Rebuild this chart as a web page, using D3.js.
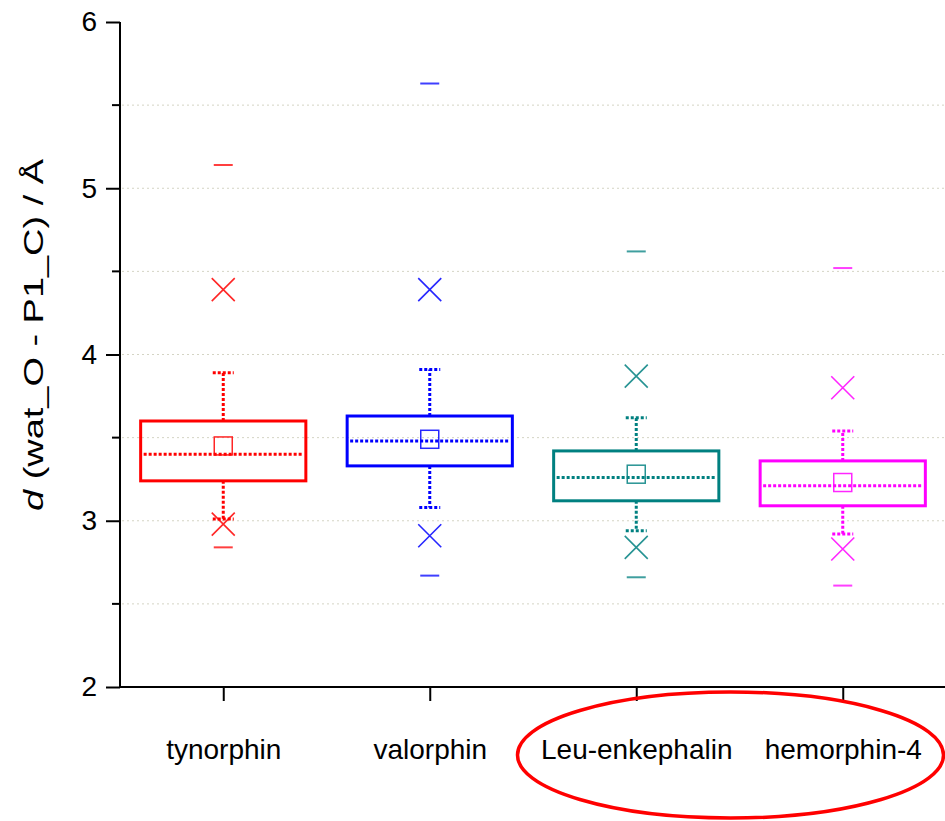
<!DOCTYPE html>
<html>
<head>
<meta charset="utf-8">
<script src="https://cdn.jsdelivr.net/npm/d3@7"></script>
<style>
  html, body { margin: 0; padding: 0; background: #fff; }
  svg { display: block; }
  text { font-family: "Liberation Sans", Arial, sans-serif; fill: #000; }
</style>
</head>
<body>
<svg id="chart" width="945" height="821"></svg>
<script>
// ---- data ----
const categories = ["tynorphin", "valorphin", "Leu-enkephalin", "hemorphin-4"];
const colors = ["#ff0000", "#0000ff", "#008080", "#ff00ff"];
const minVals = [2.84, 2.67, 2.66, 2.61];
const p1Vals = [2.98, 2.91, 2.84, 2.83];
const whiskerLow = [3.01, 3.08, 2.94, 2.92];
const q1Vals = [3.24, 3.33, 3.12, 3.09];
const medianVals = [3.40, 3.48, 3.26, 3.21];
const meanVals = [3.45, 3.49, 3.28, 3.23];
const q3Vals = [3.60, 3.63, 3.42, 3.36];
const whiskerHigh = [3.89, 3.91, 3.62, 3.54];
const p99Vals = [4.39, 4.39, 3.87, 3.80];
const maxVals = [5.14, 5.63, 4.62, 4.52];
const yMajorTicks = [2, 3, 4, 5, 6];
const yMinorTicks = [2.5, 3.5, 4.5, 5.5];
const gridVals = [2.5, 3, 3.5, 4, 4.5, 5, 5.5];
const yTitle = "(wat_O - P1_C) / Å";

// ---- layout ----
const svg = d3.select("#chart");
const plotLeft = 120, plotRight = 946, plotTop = 22, plotBottom = 687;

const x = d3.scalePoint().domain(categories).range([plotLeft, plotRight]).padding(0.5);
const y = d3.scaleLinear().domain([2, 6]).range([plotBottom, plotTop]);
const boxW = x.step() * 0.8;
const capW = 21, dashW = 19, xSize = 11.5, sq = 18;

// gridlines
svg.append("g").selectAll("line").data(gridVals).join("line")
  .attr("x1", plotLeft + 2).attr("x2", 945)
  .attr("y1", d => y(d)).attr("y2", d => y(d))
  .attr("stroke", "#d4d4c4").attr("stroke-width", 1)
  .attr("stroke-dasharray", "2,3");

const data = categories.map((c, i) => ({
  c, color: colors[i], min: minVals[i], p1: p1Vals[i], wl: whiskerLow[i], q1: q1Vals[i],
  med: medianVals[i], mean: meanVals[i], q3: q3Vals[i], wh: whiskerHigh[i], p99: p99Vals[i], max: maxVals[i]
}));

const g = svg.append("g").selectAll("g").data(data).join("g");

// whiskers (dotted)
g.append("line")
  .attr("x1", d => x(d.c)).attr("x2", d => x(d.c))
  .attr("y1", d => y(d.q3)).attr("y2", d => y(d.wh))
  .attr("stroke", d => d.color).attr("stroke-width", 3).attr("stroke-dasharray", "3,2");
g.append("line")
  .attr("x1", d => x(d.c)).attr("x2", d => x(d.c))
  .attr("y1", d => y(d.q1)).attr("y2", d => y(d.wl))
  .attr("stroke", d => d.color).attr("stroke-width", 3).attr("stroke-dasharray", "3,2");
["wh", "wl"].forEach(k => {
  g.append("line")
    .attr("x1", d => x(d.c) - capW / 2).attr("x2", d => x(d.c) + capW / 2)
    .attr("y1", d => y(d[k])).attr("y2", d => y(d[k]))
    .attr("stroke", d => d.color).attr("stroke-width", 3).attr("stroke-dasharray", "3,2");
});

// box
g.append("rect")
  .attr("x", d => x(d.c) - boxW / 2).attr("width", boxW)
  .attr("y", d => y(d.q3)).attr("height", d => y(d.q1) - y(d.q3))
  .attr("fill", "none").attr("stroke", d => d.color).attr("stroke-width", 3);

// median (dotted)
g.append("line")
  .attr("x1", d => x(d.c) - boxW / 2 + 3).attr("x2", d => x(d.c) + boxW / 2 - 3)
  .attr("y1", d => y(d.med)).attr("y2", d => y(d.med))
  .attr("stroke", d => d.color).attr("stroke-width", 3).attr("stroke-dasharray", "3,2");

// mean square
g.append("rect")
  .attr("x", d => x(d.c) - sq / 2).attr("width", sq)
  .attr("y", d => y(d.mean) - sq / 2).attr("height", sq)
  .attr("fill", "none").attr("stroke", d => d.color).attr("stroke-width", 1.5).attr("opacity", 0.85);

// 1% / 99% crosses
["p1", "p99"].forEach(k => {
  g.append("path")
    .attr("d", d => {
      const cx = x(d.c), cy = y(d[k]);
      return `M${cx - xSize},${cy - xSize}L${cx + xSize},${cy + xSize}M${cx - xSize},${cy + xSize}L${cx + xSize},${cy - xSize}`;
    })
    .attr("fill", "none").attr("stroke", d => d.color).attr("stroke-width", 1.6).attr("opacity", 0.85);
});

// min / max dashes
["min", "max"].forEach(k => {
  g.append("line")
    .attr("x1", d => x(d.c) - dashW / 2).attr("x2", d => x(d.c) + dashW / 2)
    .attr("y1", d => y(d[k])).attr("y2", d => y(d[k]))
    .attr("stroke", d => d.color).attr("stroke-width", 2).attr("opacity", 0.75);
});

// y axis
const yAxis = svg.append("g").attr("transform", `translate(${plotLeft},0)`)
  .call(d3.axisLeft(y).tickValues(yMajorTicks).tickFormat(d3.format("d")).tickSize(14).tickPadding(9));
yAxis.select(".domain").attr("stroke", "#000").attr("stroke-width", 2).attr("d", `M0,${plotTop}V${plotBottom}`);
yAxis.selectAll(".tick line").attr("stroke", "#000").attr("stroke-width", 2);
yAxis.selectAll(".tick text").attr("font-size", 28).style("font-family", "'Liberation Sans', Arial, sans-serif").attr("fill", "#000");
svg.append("g").selectAll("line").data(yMinorTicks).join("line")
  .attr("x1", plotLeft - 8).attr("x2", plotLeft)
  .attr("y1", d => y(d)).attr("y2", d => y(d))
  .attr("stroke", "#000").attr("stroke-width", 2);

// x axis
const xAxis = svg.append("g").attr("transform", `translate(0,${plotBottom})`)
  .call(d3.axisBottom(x).tickSize(14).tickPadding(38));
xAxis.select(".domain").attr("stroke", "#000").attr("stroke-width", 2).attr("d", `M${plotLeft - 1},0H945`);
xAxis.selectAll(".tick line").attr("stroke", "#000").attr("stroke-width", 2);
xAxis.selectAll(".tick text").attr("font-size", 28).style("font-family", "'Liberation Sans', Arial, sans-serif").attr("fill", "#000");

// y title
const t = svg.append("text")
  .attr("transform", `translate(43,335) rotate(-90)`)
  .attr("text-anchor", "middle")
  .attr("font-size", 28)
  .attr("textLength", 352)
  .attr("lengthAdjust", "spacingAndGlyphs");
t.append("tspan").attr("font-style", "italic").text("d");
t.append("tspan").text(" " + yTitle);

// annotation ellipse around last two categories
const ex = (x(categories[2]) + x(categories[3])) / 2 - 9;
svg.append("ellipse")
  .attr("cx", ex).attr("cy", 755).attr("rx", 213).attr("ry", 63)
  .attr("fill", "none").attr("stroke", "#f00").attr("stroke-width", 3.5);
</script>
</body>
</html>
